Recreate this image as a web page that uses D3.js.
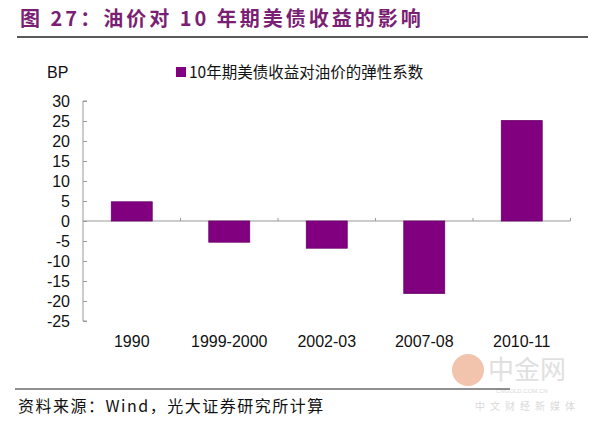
<!DOCTYPE html>
<html><head><meta charset="utf-8">
<script src="https://cdn.jsdelivr.net/npm/d3@7"></script>
<style>body{margin:0;background:#fff;}svg{display:block;}</style>
</head><body>
<svg id="c" width="600" height="421"></svg>
<script>
const categories = ["1990","1999-2000","2002-03","2007-08","2010-11"];
const values = [4.8, -5.3, -6.8, -18.1, 25.1];
const yTicks = [30,25,20,15,10,5,0,-5,-10,-15,-20,-25];
const seriesName = "10年期美债收益对油价的弹性系数";
const titleText = "图 27：油价对 10 年期美债收益的影响";
const sourceText = "资料来源：Wind，光大证券研究所计算";

const svg = d3.select("#c");
const font = "'Liberation Sans', Arial, sans-serif";
const cjk = "'Noto Sans CJK SC', sans-serif";

// title
svg.append("text").attr("x",20).attr("y",26).attr("fill","#7a1f73")
  .attr("font-family",cjk).attr("font-weight","bold").attr("font-size",20).attr("letter-spacing",3).text(titleText);
svg.append("line").attr("x1",17).attr("x2",588).attr("y1",37).attr("y2",37)
  .attr("stroke","#222").attr("stroke-width",1.5);

const x = d3.scaleBand().domain(categories).range([83,570.5]).paddingInner(0.58).paddingOuter(0.29);
const y = d3.scaleLinear().domain([-25,30]).range([321,101]);

// y axis
const ya = svg.append("g").attr("transform","translate(83,0)")
  .call(d3.axisRight(y).tickValues(yTicks).tickSize(4).tickFormat(""));
ya.selectAll("path,line").attr("stroke","#999");
ya.select(".domain").attr("d","M4,101H0V321H4");
svg.append("g").selectAll("text").data(yTicks).join("text")
  .attr("x",70).attr("y",d=>y(d)+5.5).attr("text-anchor","end")
  .attr("font-family",font).attr("font-size",16).attr("fill","#111").text(d=>d);

svg.append("text").attr("x",47).attr("y",78).attr("font-family",font).attr("font-size",16).attr("fill","#111").text("BP");

// zero line
svg.append("line").attr("x1",83).attr("x2",570.5).attr("y1",y(0)).attr("y2",y(0)).attr("stroke","#999");
const step = x.step();
svg.append("g").selectAll("line").data(d3.range(1,categories.length+1)).join("line")
  .attr("x1",d=>83+d*step).attr("x2",d=>83+d*step).attr("y1",y(0)-3).attr("y2",y(0))
  .attr("stroke","#999");

// bars
svg.append("g").selectAll("rect").data(values).join("rect")
  .attr("x",(d,i)=>x(categories[i])).attr("width",x.bandwidth())
  .attr("y",d=>y(Math.max(0,d))).attr("height",d=>Math.abs(y(d)-y(0)))
  .attr("fill","#800080").attr("stroke","#6a006a").attr("stroke-width",0.8);

// x labels
svg.append("g").selectAll("text").data(categories).join("text")
  .attr("x",d=>x(d)+x.bandwidth()/2).attr("y",347).attr("text-anchor","middle")
  .attr("font-family",font).attr("font-size",16).attr("fill","#111").text(d=>d);

// legend
svg.append("rect").attr("x",176).attr("y",67).attr("width",10).attr("height",10).attr("fill","#800080");
svg.append("text").attr("x",189).attr("y",78).attr("font-family",cjk).attr("font-size",15.5).attr("fill","#111").text(seriesName);

// watermark
const wm = svg.append("g").attr("opacity",0.55);
wm.append("circle").attr("cx",468).attr("cy",370).attr("r",16).attr("fill","#e8956b");
wm.append("text").attr("x",488).attr("y",379).attr("font-family",cjk).attr("font-size",26).attr("fill","#c8c8c8").text("中金网");
wm.append("text").attr("x",496).attr("y",393).attr("font-family",font).attr("font-size",6).attr("fill","#bbb").text("CNGOLD.COM.CN");
wm.append("text").attr("x",475).attr("y",410).attr("font-family",cjk).attr("font-size",10).attr("fill","#bbb").attr("letter-spacing",5).text("中文财经新媒体");

// footer
svg.append("line").attr("x1",15).attr("x2",510).attr("y1",389).attr("y2",389).attr("stroke","#222").attr("stroke-width",1.2);
svg.append("text").attr("x",18).attr("y",412).attr("font-family",cjk).attr("font-size",16).attr("letter-spacing",1.5).attr("fill","#111").text(sourceText);
</script>
</body></html>
